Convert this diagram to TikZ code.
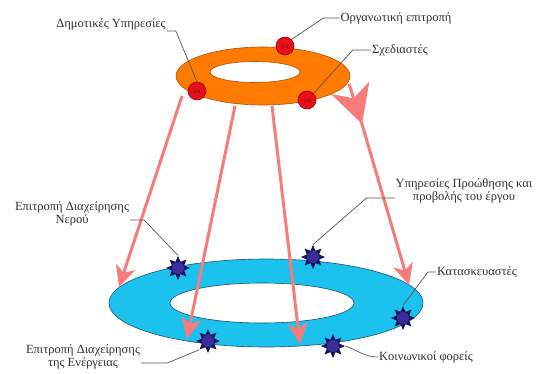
\documentclass[tikz,border=0pt]{standalone}
\usepackage{fontspec}
\setmainfont{Liberation Serif}
\usetikzlibrary{arrows.meta,shapes.geometric}
\definecolor{ringorange}{HTML}{FF7A00}
\definecolor{ringorangeedge}{HTML}{B8500C}
\definecolor{ringblue}{HTML}{1CC2EE}
\definecolor{ringblueedge}{HTML}{1F4F78}
\definecolor{flowred}{HTML}{F77C79}
\definecolor{ballred}{HTML}{E4101A}
\definecolor{balledge}{HTML}{9E0000}
\definecolor{starnavy}{HTML}{16165C}
\definecolor{starcore}{HTML}{3C2C9C}
\definecolor{leadgray}{HTML}{555555}
\definecolor{labelgray}{HTML}{2E2E2E}

\begin{document}
\begin{tikzpicture}[x=1pt,y=-1pt,
    flow/.style={draw=flowred,line width=3pt,-{Stealth[length=21pt,width=20pt,inset=6pt]}},
    bigflow/.style={draw=flowred,line width=3pt,-{Stealth[length=38pt,width=40pt,inset=11pt]}},
    member/.style={circle,fill=ballred,draw=balledge,line width=0.6pt,minimum size=18pt,inner sep=0pt,
        path picture={\fill[balledge] ([shift={(-2.5pt,-1.5pt)}]path picture bounding box.center) circle (0.9pt)
            ([shift={(2.5pt,-1.5pt)}]path picture bounding box.center) circle (0.9pt);
          \draw[balledge,line width=0.5pt] ([shift={(-3pt,1.5pt)}]path picture bounding box.center) arc[start angle=200,end angle=340,radius=3.2pt];}},
    agent/.style={star,star points=8,star point ratio=1.8,minimum size=24pt,inner sep=0pt,fill=starnavy,
        path picture={\fill[starcore] (path picture bounding box.center) circle (6pt);}},
    lbl/.style={text=labelgray,font=\fontsize{12.5}{13.5}\selectfont,inner sep=1pt,align=center},
    lead/.style={draw=leadgray,line width=0.7pt}]
  \useasboundingbox (0,0) rectangle (539,373);

  % lower ring
  \fill[ringblue,draw=ringblueedge,line width=0.6pt,even odd rule]
    (266,303) ellipse (157 and 44) (262,303) ellipse (92 and 20);

  % arrows from the upper ring
  \coordinate (o1) at (182,96);
  \coordinate (o2) at (235,106);
  \coordinate (o3) at (272,106);
  \coordinate (o4) at (349,84);
  \coordinate (m4) at (362,124);
  \coordinate (t1) at (119,287);
  \coordinate (t2) at (187,339);
  \coordinate (t3) at (300,344);
  \coordinate (t4) at (409,285);
  \draw[flow] (o1) -- (t1);
  \draw[flow] (o2) -- (t2);
  \draw[flow] (o3) -- (t3);
  \draw[flow,shorten <=-2pt] (m4) -- (t4);
  \draw[bigflow] (o4) -- (m4);

  % upper ring
  \fill[ringorange,draw=ringorangeedge,line width=0.6pt,even odd rule]
    (263,76) ellipse (87 and 29) (255,72) ellipse (45 and 10.5);

  % members
  \node[member] (bdim) at (197,91) {};
  \node[member] (borg) at (285,46) {};
  \node[member] (bsch) at (307,100) {};

  % agents on the lower ring
  \node[agent] (snero) at (178,268) {};
  \node[agent] (sprom) at (313,257) {};
  \node[agent] (skat) at (403,318) {};
  \node[agent] (skoin) at (333,346) {};
  \node[agent] (sener) at (208,341) {};

  % labels
  \node[lbl] (ldim) at (111,24) {Δημοτικές Υπηρεσίες};
  \node[lbl] (lorg) at (396,18) {Οργανωτική επιτροπή};
  \node[lbl] (lsch) at (400,50) {Σχεδιαστές};
  \node[lbl] (lnero) at (72,214) {Επιτροπή Διαχείρησης\\Νερού};
  \node[lbl] (lprom) at (464,191) {Υπηρεσίες Προώθησης και\\προβολής του έργου};
  \node[lbl] (lkat) at (477,272) {Κατασκευαστές};
  \node[lbl] (lkoin) at (426,357) {Κοινωνικοί φορείς};
  \node[lbl] (lener) at (83,357) {Επιτροπή Διαχείρησης\\της Ενέργειας};

  % leaders
  \draw[lead] ([yshift=-7pt]ldim.east) -- ++(9,0) -- (bdim.north);
  \draw[lead] (lorg.west) -- ++(-16,0) -- (borg.north east);
  \draw[lead] (lsch.west) -- ++(-18,0) -- (bsch.north east);
  \draw[lead] ([yshift=-6pt]lnero.east) -- ++(14,0) -- (snero.north);
  \draw[lead] ([yshift=-7pt]lprom.west) -- ++(-28,0) -- (sprom.north);
  \draw[lead] (lkat.west) -- ++(-8,0) -- (skat.north);
  \draw[lead] (lkoin.west) to[out=180,in=-20] (skoin.east);
  \draw[lead] ([yshift=-6pt]lener.east) -- ++(26,0) -- (sener.south west);
\end{tikzpicture}
\end{document}
